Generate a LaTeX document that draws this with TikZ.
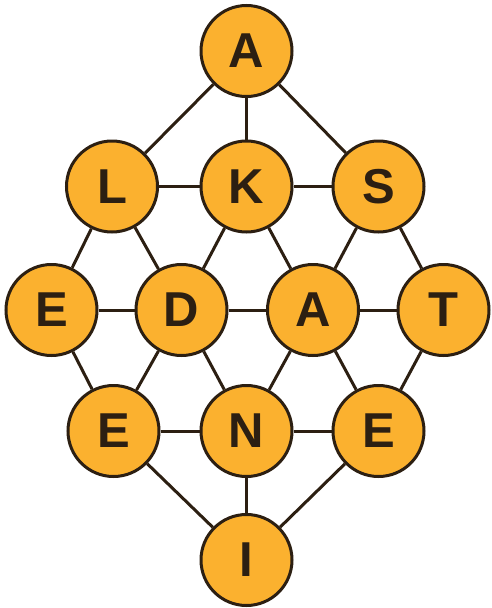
\documentclass[tikz,border=0pt]{standalone}
\usepackage{fontspec}
\setmainfont{Liberation Sans}
\definecolor{fillor}{HTML}{FBB12F}
\definecolor{ink}{HTML}{2C1F12}
\tikzset{
  letter/.style={circle, draw=ink, fill=fillor, line width=3pt, minimum size=91pt, inner sep=0pt, text=ink, font=\fontsize{49}{49}\selectfont\bfseries},
  link/.style={draw=ink, line width=3pt}
}
\begin{document}
\begin{tikzpicture}[x=1pt,y=-1pt]
\useasboundingbox (0,0) rectangle (491,608);
\node[letter] (a1) at (246.5,51) {A};
\node[letter] (l) at (112,186.5) {L};
\node[letter] (k) at (246.5,186.5) {K};
\node[letter] (s) at (378.5,186.5) {S};
\node[letter] (e1) at (51.5,310) {E};
\node[letter] (d) at (181.5,310) {D};
\node[letter] (a2) at (313,310) {A};
\node[letter] (t) at (443.5,310) {T};
\node[letter] (e2) at (113.5,431) {E};
\node[letter] (n) at (246.5,431) {N};
\node[letter] (e3) at (378.5,431) {E};
\node[letter] (i) at (246.5,560) {I};
\foreach \u/\v in {a1/l,a1/k,a1/s,l/k,k/s,l/e1,l/d,k/d,k/a2,s/a2,s/t,e1/d,d/a2,a2/t,e1/e2,d/e2,d/n,a2/n,a2/e3,t/e3,e2/n,n/e3,e2/i,n/i,e3/i}
  \draw[link] (\u) -- (\v);
\end{tikzpicture}
\end{document}
